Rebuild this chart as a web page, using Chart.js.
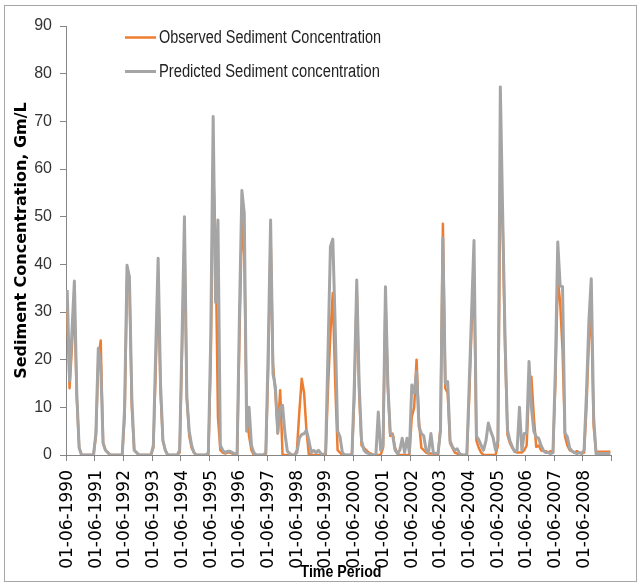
<!DOCTYPE html>
<html>
<head>
<meta charset="utf-8">
<title>Sediment Concentration</title>
<script src="https://cdn.jsdelivr.net/npm/chart.js@4.4.1/dist/chart.umd.min.js"></script>
<style>
  html, body { margin: 0; padding: 0; background: #fff; }
  #wrap { width: 641px; height: 585px; }
</style>
</head>
<body>
<div id="wrap"><canvas id="sedimentChart" width="641" height="585"></canvas></div>
<script>
// Tick labels, one per year (each year = 12 monthly values, June..May)
const tickLabels = [
  "01-06-1990", "01-06-1991", "01-06-1992", "01-06-1993", "01-06-1994",
  "01-06-1995", "01-06-1996", "01-06-1997", "01-06-1998", "01-06-1999",
  "01-06-2000", "01-06-2001", "01-06-2002", "01-06-2003", "01-06-2004",
  "01-06-2005", "01-06-2006", "01-06-2007", "01-06-2008"
];

const seriesNames = ["Observed Sediment Concentration", "Predicted Sediment concentration"];

// Observed values, one row per year
const observed = [
  30.4, 14, 23, 32, 12, 1.5, 0, 0, 0, 0, 0, 0,          // 1990
  4, 20, 24, 2.5, 1, 0.5, 0, 0, 0, 0, 0, 0,             // 1991
  8, 37, 36, 10, 1, 0.5, 0, 0, 0, 0, 0, 0,              // 1992
  1.5, 18, 37, 13, 3, 1, 0, 0, 0, 0, 0, 0.5,            // 1993
  22, 45, 12, 4, 1.5, 0.5, 0, 0, 0, 0, 0, 0,            // 1994
  20, 60, 45, 8, 1, 0.5, 0.3, 0.5, 0.5, 0.3, 0, 0,      // 1995
  25, 49, 42, 8, 4, 1, 0, 0, 0, 0, 0, 0,                // 1996
  18, 46, 19, 13, 4.5, 13.6, 0, 0, 0, 0, 0, 0,          // 1997
  1, 9, 16, 13, 5, 0, 0, 0, 0, 0, 0, 0,                 // 1998
  0, 14, 25.5, 34, 15, 1, 0.5, 0, 0, 0, 0, 0,           // 1999
  12, 35, 13, 2, 1.5, 1, 0.5, 0.3, 0, 0, 0, 0,          // 2000
  1.5, 33, 14, 4, 4.5, 1.5, 0.3, 0, 0, 0, 0, 0,         // 2001
  8, 10, 20, 7, 1.5, 1, 0.5, 0.3, 0.3, 0.3, 0, 0,       // 2002
  6, 48.5, 14, 13, 2.5, 1.5, 0.5, 0.3, 0, 0, 0, 0,      // 2003
  12, 27, 38, 3, 1.5, 0.5, 0, 0, 0, 0, 0, 0,            // 2004
  2, 57, 48, 22, 4.2, 2.5, 1.5, 0.7, 0.5, 0.5, 0.5, 1,  // 2005
  2, 14, 16.4, 8, 1.7, 2, 1, 0.8, 0.8, 0.5, 0.8, 0.5,   // 2006
  15, 37, 32, 22, 4, 2, 1, 0.8, 0.5, 0.8, 0.5, 0.3,     // 2007
  0.5, 10, 24, 30.4, 6, 0.7, 0.7, 0.7, 0.7, 0.7, 0.7, 0.7 // 2008
];

// Predicted values, one row per year
const predicted = [
  34.6, 15.5, 26, 36.5, 13, 1.5, 0, 0, 0, 0, 0, 0,      // 1990
  4.6, 22.4, 19, 2.5, 1, 0.5, 0, 0, 0, 0, 0, 0,         // 1991
  10, 39.8, 37.4, 12, 1, 0.5, 0, 0, 0, 0, 0, 0,         // 1992
  2, 22, 41.3, 15, 3, 1, 0, 0, 0, 0, 0, 1,              // 1993
  25, 50, 12, 5, 2, 0.5, 0, 0, 0, 0, 0, 0.5,            // 1994
  25, 71, 32, 49.3, 2, 1, 0.5, 0.8, 0.8, 0.5, 0.3, 0,   // 1995
  30, 55.5, 50.7, 5, 10, 2, 0.5, 0, 0, 0, 0, 0.5,       // 1996
  22, 49.3, 17, 14.3, 4.6, 10, 10.4, 4.5, 0.8, 0.3, 0, 0, // 1997
  0.5, 3.5, 4.3, 4.5, 5.2, 3, 0.5, 1, 0.5, 1, 0.3, 0,   // 1998
  0.5, 22, 43.7, 45.3, 27, 5, 3.8, 0.5, 0, 0, 0, 0,     // 1999
  15, 36.7, 15, 3, 1, 0.5, 0.3, 0, 0, 0, 9, 1,          // 2000
  2, 35.3, 15, 4.6, 4.2, 1, 0.3, 1, 3.5, 0.5, 3.5, 0.5, // 2001
  14.7, 13, 17.5, 6, 4.5, 4, 1, 0.5, 4.5, 0.5, 0.3, 0.5, // 2002
  5, 45.5, 15, 15.4, 3, 1.7, 1, 1.3, 0.3, 0, 0, 0,      // 2003
  15, 30, 45, 4, 3.2, 2, 1, 3, 6.7, 5, 3.6, 1,          // 2004
  3, 77.2, 50, 24, 5.2, 3, 1.7, 0.7, 1, 10, 1, 4.5,     // 2005
  4.5, 19.6, 10, 5, 3.8, 3.5, 2, 1, 0.5, 0.5, 0.3, 0.5, // 2006
  18, 44.7, 35.5, 35.3, 4.6, 3.8, 1.4, 0.8, 0.5, 0.3, 0.5, 0.3, // 2007
  1, 13, 28, 37, 8, 0.3, 0.3, 0.3, 0.3, 0.3, 0.3, 0.3   // 2008
];

const yTicks = [0, 10, 20, 30, 40, 50, 60, 70, 80, 90];

const ORANGE = "#ED7D31";
const GREY = "#A5A5A5";
const AXIS = "#868686";
const SANS = '"Liberation Sans", Arial, sans-serif';
const PER_YEAR = 12;
const TOTAL = tickLabels.length * PER_YEAR;

// each month sits in the middle of its slot, like Excel's category axis
function toPoints(values) {
  return values.map((v, i) => ({ x: i + 0.5, y: v }));
}

// no narrow font installed, so squeeze the text to the width it has in the original
function drawSqueezed(ctx, text, x, y, width, align) {
  const natural = ctx.measureText(text).width;
  const sx = Math.min(1, width / natural);
  ctx.save();
  ctx.translate(x, y);
  ctx.scale(sx, 1);
  ctx.textAlign = align;
  ctx.fillText(text, 0, 0);
  ctx.restore();
}

// frame, legend inside the plot and the x axis title (drawn over the labels)
const extras = {
  id: "extras",
  afterDraw(chart) {
    const ctx = chart.ctx;
    ctx.save();

    ctx.strokeStyle = "#a6a6a6";
    ctx.lineWidth = 1;
    ctx.strokeRect(4.5, 5.5, 632, 576);

    const rows = [
      { color: ORANGE, width: 2.5, y: 37.5, text: seriesNames[0], w: 222 },
      { color: GREY, width: 3, y: 71.5, text: seriesNames[1], w: 221 }
    ];
    rows.forEach((r) => {
      ctx.strokeStyle = r.color;
      ctx.lineWidth = r.width;
      ctx.beginPath();
      ctx.moveTo(125, r.y);
      ctx.lineTo(156, r.y);
      ctx.stroke();
      ctx.fillStyle = "#222";
      ctx.font = "18px " + SANS;
      ctx.textBaseline = "middle";
      drawSqueezed(ctx, r.text, 159, r.y + 1, r.w, "left");
    });

    ctx.fillStyle = "#000";
    ctx.font = "bold 17px " + SANS;
    ctx.textBaseline = "alphabetic";
    drawSqueezed(ctx, "Time Period", 341, 577, 81, "center");

    ctx.restore();
  }
};

const ctx = document.getElementById("sedimentChart");
new Chart(ctx, {
  type: "line",
  data: {
    datasets: [
      {
        label: seriesNames[0],
        data: toPoints(observed),
        borderColor: ORANGE,
        borderWidth: 2.5,
        pointRadius: 0,
        tension: 0,
        borderJoinStyle: "round",
        order: 1
      },
      {
        label: seriesNames[1],
        data: toPoints(predicted),
        borderColor: GREY,
        borderWidth: 3,
        pointRadius: 0,
        tension: 0,
        borderJoinStyle: "round",
        order: 0
      }
    ]
  },
  options: {
    responsive: false,
    animation: false,
    devicePixelRatio: 1,
    layout: { padding: { left: 0, top: 26, right: 25, bottom: 0 } },
    plugins: {
      legend: { display: false },
      tooltip: { enabled: false }
    },
    scales: {
      x: {
        type: "linear",
        min: 0,
        max: TOTAL,
        afterBuildTicks: (scale) => {
          const ticks = tickLabels.map((_, k) => ({ value: k * PER_YEAR }));
          ticks.push({ value: TOTAL });
          scale.ticks = ticks;
        },
        afterFit: (scale) => { scale.height = 130; },
        border: { color: AXIS, width: 1 },
        grid: { drawOnChartArea: false, drawTicks: true, tickLength: 6, color: AXIS },
        ticks: {
          autoSkip: false,
          minRotation: 90,
          maxRotation: 90,
          padding: 9,
          labelOffset: 1.5,
          color: "#000",
          font: { family: '"DejaVu Sans", Verdana, sans-serif', size: 17 },
          callback: (value) => tickLabels[value / PER_YEAR] || ""
        }
      },
      y: {
        min: 0,
        max: 90,
        afterBuildTicks: (scale) => {
          scale.ticks = yTicks.map((v) => ({ value: v }));
        },
        afterFit: (scale) => { scale.width = 66; },
        border: { color: AXIS, width: 1 },
        grid: { drawOnChartArea: false, drawTicks: true, tickLength: 6, color: AXIS },
        ticks: {
          padding: 8,
          color: "#333",
          font: { family: SANS, size: 16 }
        },
        title: {
          display: true,
          text: "Sediment Concentration, Gm/L",
          color: "#000",
          padding: { top: 12, bottom: 0 },
          font: { family: '"DejaVu Sans", Verdana, sans-serif', size: 16, weight: "bold" }
        }
      }
    }
  },
  plugins: [extras]
});
</script>
</body>
</html>
